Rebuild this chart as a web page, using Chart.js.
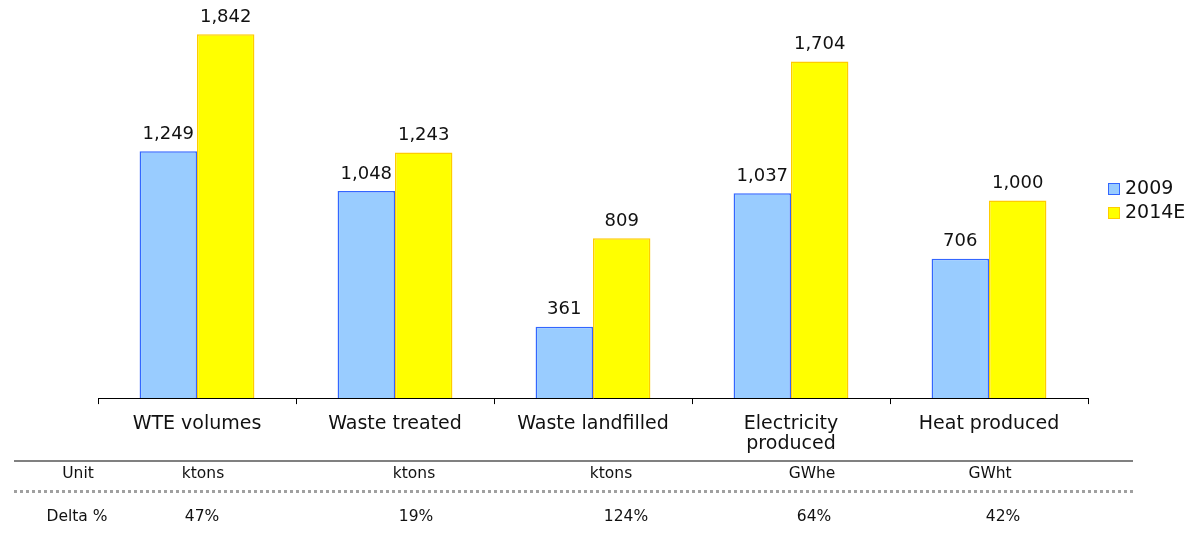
<!DOCTYPE html>
<html>
<head>
<meta charset="utf-8">
<script src="https://cdn.jsdelivr.net/npm/chart.js@4.4.1/dist/chart.umd.min.js"></script>
<style>
  html, body { margin: 0; padding: 0; background: #fff; }
  #wrap { position: relative; width: 1194px; height: 536px; font-family: "DejaVu Sans", Verdana, sans-serif; }
  #grafica { position: absolute; left: 0; top: 0; }
  .linea { position: absolute; left: 14px; width: 1119px; }
  .celda { position: absolute; font-size: 15.5px; line-height: 18px; color: #111; transform: translateX(-50%); white-space: nowrap; }
  .leyenda { position: absolute; left: 1108px; font-size: 19px; line-height: 22px; color: #111; white-space: nowrap; }
  .leyenda span { display: inline-block; width: 10px; height: 10px; border: 1px solid; margin-right: 5px; vertical-align: -1px; }
</style>
</head>
<body>
<div id="wrap">
  <canvas id="grafica" width="1194" height="536"></canvas>
  <div class="linea" style="top:460px; border-top:2px solid #808080;"></div>
  <div class="linea" style="top:490px; border-top:3px dotted #a0a0a0;"></div>
</div>
<script>
// datos
const categorias = ["WTE volumes", "Waste treated", "Waste landfilled", ["Electricity", "produced"], "Heat produced"];
const series = ["2009", "2014E"];
const valores2009 = [1249, 1048, 361, 1037, 706];
const valores2014E = [1842, 1243, 809, 1704, 1000];
const unidades = ["ktons", "ktons", "ktons", "GWhe", "GWht"];
const deltas = ["47%", "19%", "124%", "64%", "42%"];

const rellenos = ["#99ccff", "#ffff00"];
const bordes = ["#3366ff", "#ffcc00"];

// posiciones de la tabla (centro de cada texto)
const colUnidad = [78, 203, 414, 611, 812, 990];
const colDelta = [77, 202, 416, 626, 814, 1003];

const wrap = document.getElementById("wrap");

// =========================
// TABLA INFERIOR
// =========================
function ponerFila(textos, xs, y) {
    textos.forEach((t, i) => {
        const d = document.createElement("div");
        d.className = "celda";
        d.style.left = xs[i] + "px";
        d.style.top = y + "px";
        d.innerText = t;
        wrap.appendChild(d);
    });
}
ponerFila(["Unit"].concat(unidades), colUnidad, 464);
ponerFila(["Delta %"].concat(deltas), colDelta, 507);

// =========================
// LEYENDA
// =========================
series.forEach((s, i) => {
    const d = document.createElement("div");
    d.className = "leyenda";
    d.style.top = (176 + i * 24) + "px";
    d.innerHTML = '<span style="background:' + rellenos[i] + ';border-color:' + bordes[i] + '"></span>' + s;
    wrap.appendChild(d);
});

// =========================
// ETIQUETAS DE VALOR
// =========================
const etiquetas = {
    id: "etiquetas",
    afterDatasetsDraw(chart) {
        const ctx = chart.ctx;
        ctx.save();
        ctx.font = "18px 'DejaVu Sans'";
        ctx.fillStyle = "#111";
        ctx.textAlign = "center";
        ctx.textBaseline = "bottom";
        chart.data.datasets.forEach((ds, i) => {
            chart.getDatasetMeta(i).data.forEach((bar, j) => {
                ctx.fillText(ds.data[j].toLocaleString("en-US"), bar.x, bar.y - 8);
            });
        });
        ctx.restore();
    }
};

const ctx = document.getElementById("grafica").getContext("2d");
new Chart(ctx, {
    type: "bar",
    data: {
        labels: categorias,
        datasets: [{
            label: series[0],
            data: valores2009,
            backgroundColor: rellenos[0],
            borderColor: bordes[0],
            borderWidth: 1.5
        }, {
            label: series[1],
            data: valores2014E,
            backgroundColor: rellenos[1],
            borderColor: bordes[1],
            borderWidth: 1.5
        }]
    },
    options: {
        responsive: false,
        animation: false,
        layout: { padding: { left: 98, top: 3, right: 106, bottom: 72 } },
        datasets: { bar: { categoryPercentage: 0.58, barPercentage: 1 } },
        plugins: {
            tooltip: { enabled: false },
            legend: { display: false }
        },
        scales: {
            x: {
                grid: { display: true, drawOnChartArea: false, offset: true, tickLength: 6, color: "#000" },
                border: { display: true, color: "#000", width: 1 },
                ticks: { color: "#111", padding: 10, maxRotation: 0, font: { family: "DejaVu Sans", size: 19, lineHeight: 1.05 } }
            },
            y: {
                display: false,
                min: 0,
                max: 2000
            }
        }
    },
    plugins: [etiquetas]
});
</script>
</body>
</html>
